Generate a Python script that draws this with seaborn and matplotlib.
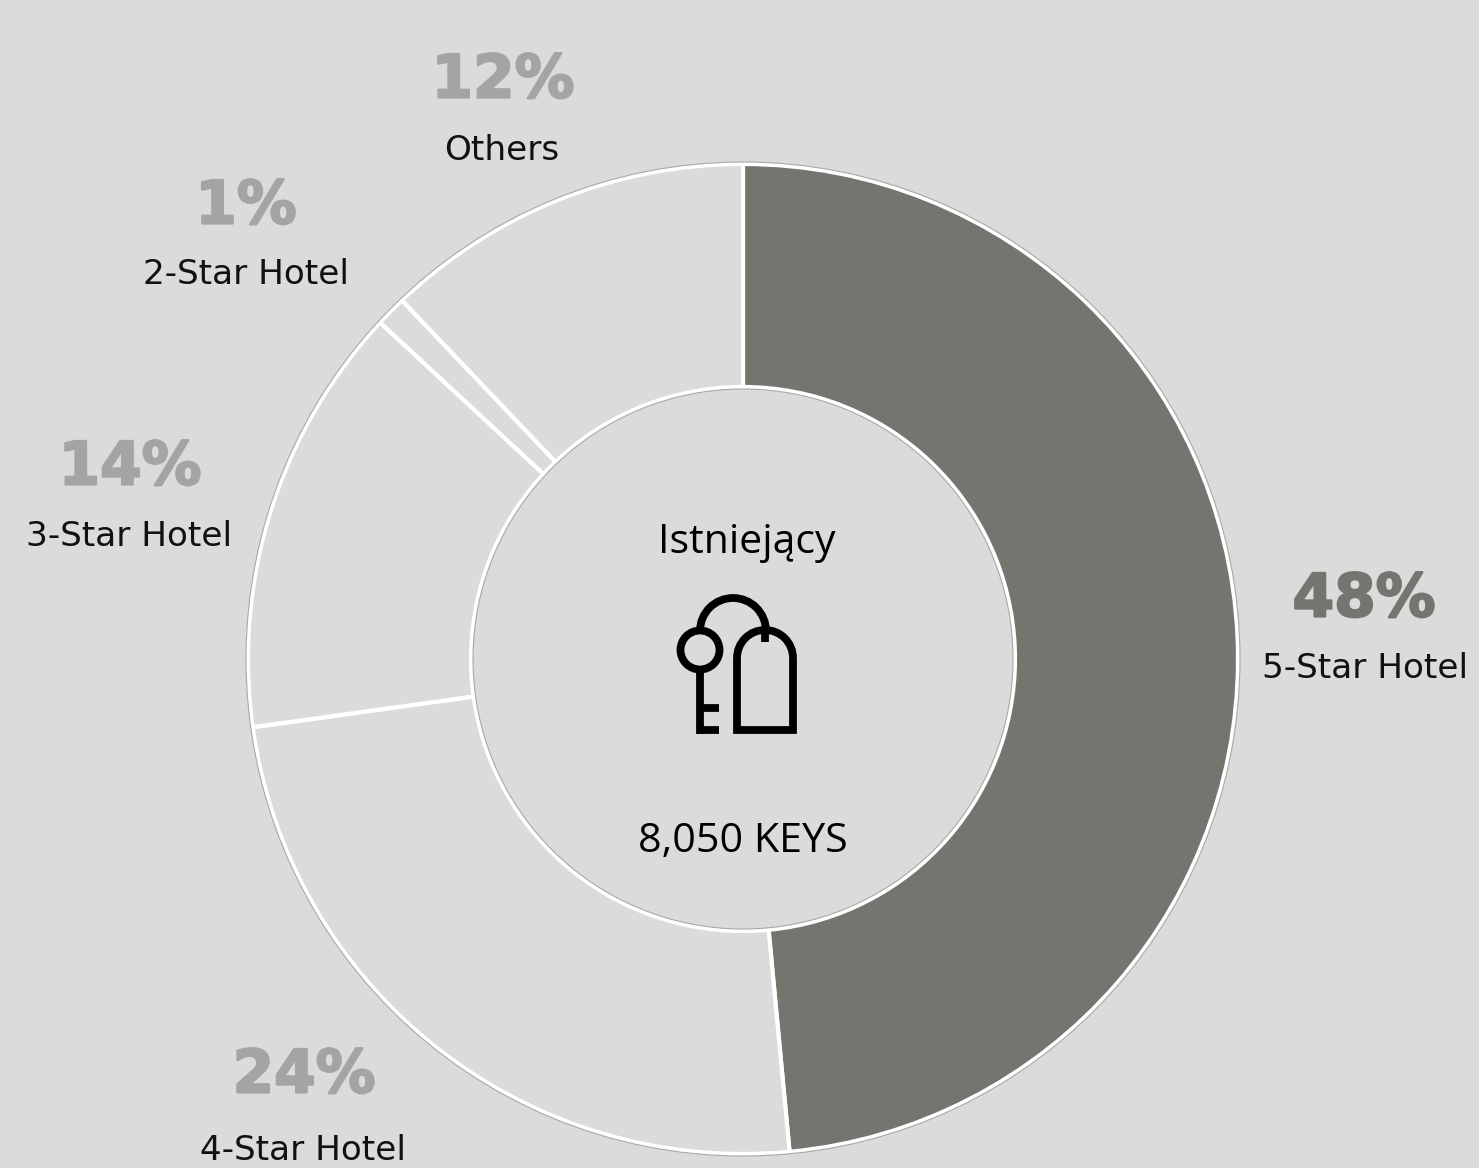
import numpy as np
import matplotlib
matplotlib.use("Agg")
import matplotlib.pyplot as plt
import matplotlib.patheffects as pe
from matplotlib.patches import Arc, Circle
import seaborn as sns

categories = ["5-Star Hotel", "4-Star Hotel", "3-Star Hotel", "2-Star Hotel", "Others"]
shares = [48.5, 24.3, 14.1, 1.0, 12.1]
share_labels = ["48%", "24%", "14%", "1%", "12%"]
center_title = "Istniejący"
center_total = "8,050 KEYS"

BG = "#dbdbdb"
DARK = "#75746f"
MUTED = "#a4a4a4"
W, H = 1479, 1168


def py(y):
    # picture pixels count from the top
    return H - y


sns.set_theme(style="white", rc={"figure.facecolor": BG, "axes.facecolor": BG})
plt.rcParams["font.family"] = ["DejaVu Sans"]

fig = plt.figure(figsize=(W / 100, H / 100), dpi=100)
ax = fig.add_axes([0, 0, 1, 1])

slice_colors = [DARK, BG, BG, BG, BG]
ax.pie(
    shares,
    colors=slice_colors,
    startangle=90,
    counterclock=False,
    radius=495,
    center=(743, py(659)),
    wedgeprops={"width": 223, "edgecolor": "white", "linewidth": 3},
    frame=False,
)
ax.set_xlim(0, W)
ax.set_ylim(0, H)
ax.set_aspect("equal")
ax.axis("off")

# faint grey rim just outside the white edge
for r in (497, 270):
    ax.add_patch(Circle((743, py(659)), r, fill=False, ec="#a8a8a8", lw=0.8))

# percent and name for each slice
pct_xy = [(1364, 600), (304, 1076), (130, 468), (246, 207), (503, 81)]
name_xy = [(1365, 669), (303, 1151), (129, 537), (246, 275), (502, 150)]
pct_colors = [DARK, MUTED, MUTED, MUTED, MUTED]
for i, cat in enumerate(categories):
    pct = ax.text(pct_xy[i][0], py(pct_xy[i][1]), share_labels[i], ha="center", va="center",
                  fontsize=43, fontweight="bold", color=pct_colors[i])
    pct.set_path_effects([pe.withStroke(linewidth=1.6, foreground=pct_colors[i])])
    ax.text(name_xy[i][0], py(name_xy[i][1]), cat, ha="center", va="center",
            fontsize=24.7, color="#111111")

ax.text(747, py(543), center_title, ha="center", va="center", fontsize=29.5, color="black",
        family=["Open Sans", "DejaVu Sans"])
ax.text(743, py(842), center_total, ha="center", va="center", fontsize=29.7, color="black",
        family=["Open Sans", "DejaVu Sans"])

# key and tag icon
lw = 5.6
ink = {"color": "black", "lw": lw, "solid_capstyle": "butt", "solid_joinstyle": "miter"}
ax.add_patch(Circle((700, py(650)), 19.5, fill=False, ec="black", lw=lw))
ax.plot([700, 700], [py(670), py(734)], **ink)
ax.plot([700, 719], [py(708), py(708)], **ink)
ax.plot([700, 719], [py(730), py(730)], **ink)
ax.add_patch(Arc((733, py(631)), 66, 66, theta1=0, theta2=180, ec="black", lw=lw))
ax.plot([765, 765], [py(631), py(642)], **ink)
ax.add_patch(Arc((765, py(658)), 56, 56, theta1=0, theta2=180, ec="black", lw=lw))
ax.plot([737, 737, 793, 793], [py(658), py(730), py(730), py(658)], **ink)

fig.savefig("out.png", dpi=100, facecolor=BG)
